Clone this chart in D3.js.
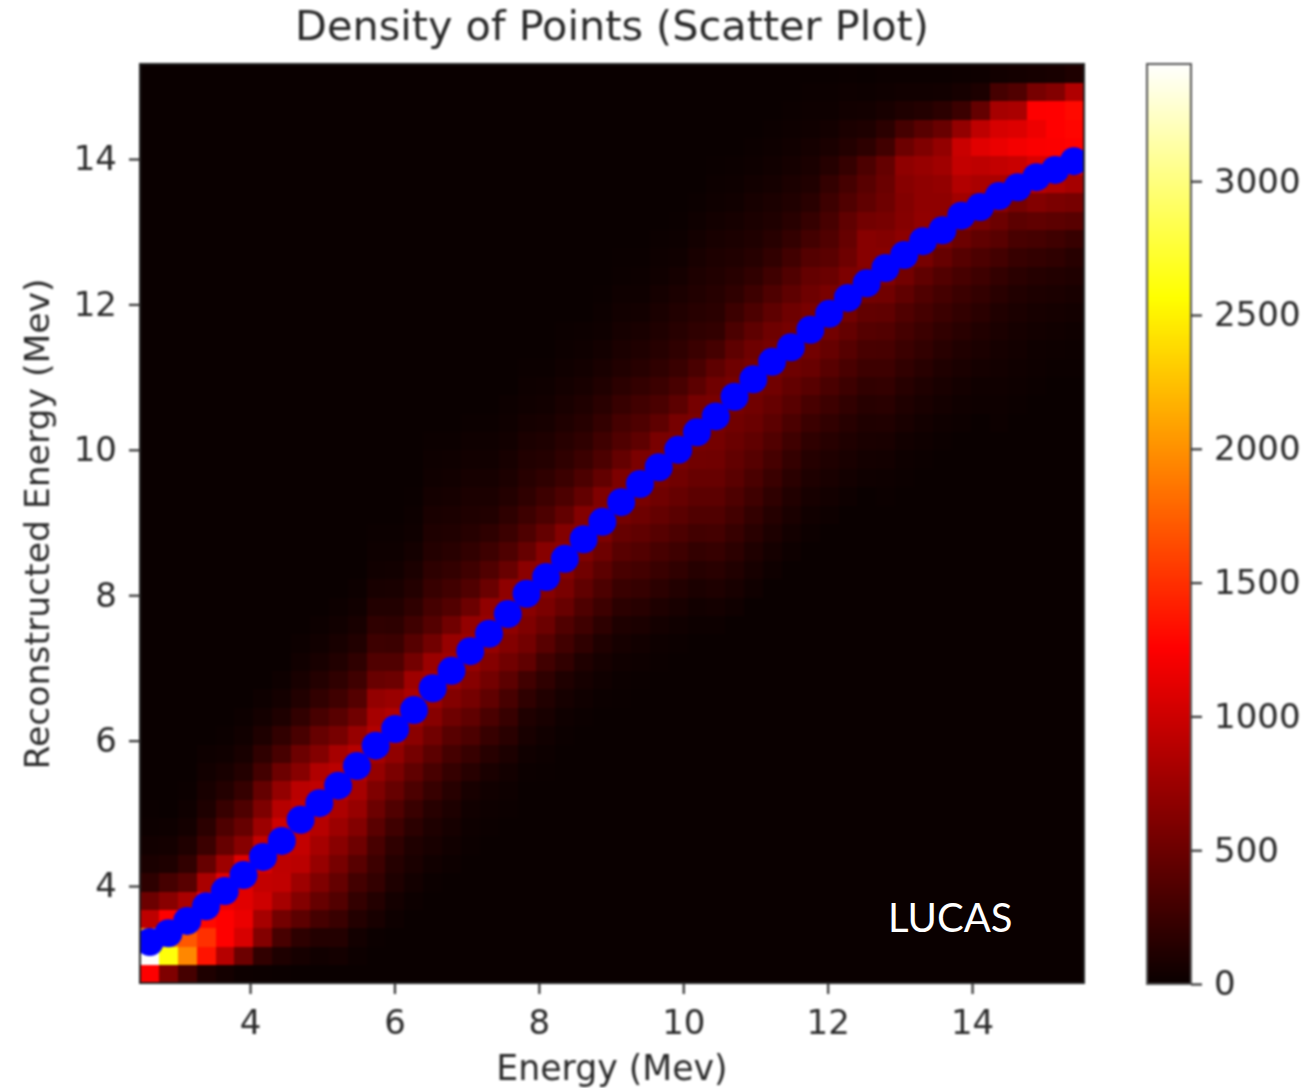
<!DOCTYPE html>
<html>
<head>
<meta charset="utf-8">
<script src="https://cdnjs.cloudflare.com/ajax/libs/d3/7.8.5/d3.min.js"></script>
<style>
html,body{margin:0;padding:0;background:#fff;}
svg{display:block;}
text{font-family:"DejaVu Sans",sans-serif;fill:#2a2a2a;}
</style>
</head>
<body>
<svg id="c" width="1311" height="1088"></svg>
<script>
const titleText = "Density of Points (Scatter Plot)";
const xLabel = "Energy (Mev)";
const yLabel = "Reconstructed Energy (Mev)";
const note = "LUCAS";
const xTicks = [4, 6, 8, 10, 12, 14];
const yTicks = [4, 6, 8, 10, 12, 14];
const cbarTicks = [0, 500, 1000, 1500, 2000, 2500, 3000];
const xDomain = [2.476, 15.55];
const yDomain = [2.666, 15.307];
const vMax = 3438;
const binCount = 50;

// Mean reconstructed energy (blue markers)
const meanX = [2.61,2.87,3.13,3.39,3.65,3.91,4.18,4.44,4.70,4.96,5.22,5.48,5.74,6.01,6.27,6.53,6.79,7.05,7.31,7.57,7.83,8.10,8.36,8.62,8.88,9.14,9.40,9.66,9.93,10.19,10.45,10.71,10.97,11.23,11.49,11.76,12.02,12.28,12.54,12.80,13.06,13.32,13.59,13.85,14.11,14.37,14.63,14.89,15.15,15.41];
const meanY = [3.23,3.35,3.52,3.72,3.93,4.15,4.40,4.62,4.91,5.14,5.38,5.65,5.93,6.16,6.42,6.72,6.96,7.23,7.47,7.74,8.02,8.25,8.50,8.77,9.01,9.28,9.53,9.76,10.0,10.24,10.46,10.73,10.97,11.21,11.41,11.65,11.87,12.09,12.29,12.50,12.68,12.87,13.02,13.22,13.34,13.49,13.61,13.75,13.85,13.97];

// Density per energy column: [first non-empty row, counts upward from that row...]
const heatColumns = [
[0,1250,3430,2000,920,500,180,80,40,15,5],
[0,600,2600,1900,1250,650,300,100,50,20],
[0,300,1950,1700,1450,820,400,200,110,50,25,12],
[0,100,1350,1500,1300,1150,820,470,250,170,100,70,40,18],
[0,50,880,1250,1250,1150,1100,760,470,350,230,130,70,30,10],
[0,15,500,1050,1150,1100,1100,1080,640,470,350,220,130,70,35,15],
[0,8,200,620,800,1000,950,1050,950,750,590,460,290,190,100,50,20],
[0,5,100,310,540,800,930,920,1000,1000,880,700,500,310,200,100,50,20],
[1,60,180,420,620,760,900,950,950,950,900,640,500,320,200,120,70,35,15],
[1,35,130,300,470,600,720,800,880,930,930,850,620,470,310,200,130,70,35,15],
[1,50,130,240,370,460,560,650,750,830,900,900,800,560,400,270,190,120,70,35,15],
[1,15,45,130,210,290,400,510,620,720,800,870,880,720,520,380,270,190,120,70,35,15],
[2,10,70,130,210,260,320,410,500,600,710,800,860,800,700,480,360,260,190,125,70,35,18,8],
[3,20,50,100,140,190,270,360,470,580,690,790,850,740,500,360,250,180,125,75,40,20,8],
[4,15,45,80,110,170,240,340,440,550,660,770,830,760,540,390,270,190,130,85,50,28,14,6],
[5,12,35,70,100,150,230,320,420,530,640,740,800,740,530,380,300,230,180,130,100,75,50,30,18,10],
[6,15,35,60,95,150,220,300,400,510,620,730,770,720,520,370,280,210,155,115,85,60,40,24,12],
[7,8,18,35,70,150,230,340,440,550,640,720,750,700,500,360,270,200,145,110,85,60,40,25,12],
[8,8,18,35,80,150,230,330,440,540,630,710,730,690,490,360,260,185,120,85,60,38,25,12],
[9,10,20,45,90,160,230,310,420,530,620,680,710,680,480,350,250,185,130,90,65,42,28,14],
[11,10,30,70,110,190,280,440,540,600,650,690,660,470,350,260,190,150,120,85,55,32,18,8],
[11,5,15,35,70,120,190,280,400,500,580,640,680,640,460,340,260,190,135,100,68,42,24,12],
[13,10,25,60,110,200,280,360,480,570,640,670,620,450,340,250,190,150,110,75,50,30,15,8],
[14,12,30,60,110,190,270,350,440,530,610,650,620,450,340,250,190,145,105,72,45,26,14],
[15,12,30,60,105,180,260,340,420,510,590,630,600,450,340,270,210,160,115,75,48,28,14,6],
[15,5,12,30,60,100,170,240,320,400,470,550,610,590,460,360,300,230,170,120,85,60,40,25,12,6],
[16,6,18,40,85,150,220,290,370,440,510,570,610,580,430,350,280,210,150,105,75,48,28,14,6],
[17,8,22,50,100,170,240,310,390,460,520,570,600,570,430,330,250,190,145,110,80,55,30,18,8],
[18,12,30,70,125,195,265,340,410,470,530,575,590,560,420,320,240,190,150,120,85,55,32,16,6],
[19,15,40,85,145,210,285,360,420,475,530,570,580,555,420,325,245,190,150,120,95,70,45,25,12],
[19,15,50,100,160,225,295,360,420,475,520,550,575,570,520,430,300,205,165,145,120,95,72,48,28,14,6],
[20,30,70,120,175,230,290,350,410,450,490,530,565,565,515,430,335,255,190,150,115,85,60,38,20,8],
[21,30,65,110,160,210,270,330,390,440,490,530,565,560,510,430,340,260,195,145,105,85,65,40,20,10],
[22,25,55,95,140,190,245,305,365,420,470,525,560,555,510,430,350,270,200,150,110,85,55,35,20,10],
[23,20,45,80,120,165,215,270,335,400,455,510,560,555,510,430,360,280,210,155,115,85,55,35,20,10],
[24,15,35,65,100,140,190,250,320,400,480,540,570,570,510,460,380,290,220,160,115,80,55,30,18,10],
[25,18,45,75,110,150,200,260,330,400,470,540,585,570,490,410,360,310,260,210,140,80,45,20,8],
[26,20,45,75,110,150,200,260,325,390,460,540,600,590,510,470,440,360,300,220,130,85,40,18,6],
[27,25,50,80,110,150,200,260,320,385,450,540,610,640,640,540,440,400,340,180,100,45,15],
[26,8,22,45,75,115,160,210,260,310,370,440,530,620,650,620,560,510,490,460,280,170,70,25,8],
[27,10,22,42,75,110,150,200,250,300,360,440,540,640,670,630,620,640,680,500,300,110,35,12],
[28,10,25,45,75,110,155,205,250,300,360,440,560,660,690,680,680,720,600,400,130,35,12],
[29,12,28,50,75,110,155,200,250,300,370,470,590,680,680,700,770,700,480,170,40,12],
[30,15,30,50,80,115,160,205,250,310,390,500,640,780,860,950,980,700,250,60,15],
[31,18,32,55,85,120,165,210,265,340,440,570,700,820,920,1100,920,460,90,20],
[30,15,20,30,45,60,85,115,160,210,290,400,500,660,820,950,1150,1050,800,300,40],
[31,12,20,30,45,62,85,120,165,230,320,420,560,760,980,1200,1080,820,360,50],
[32,10,18,28,45,65,95,140,210,300,440,620,900,1060,1230,1170,1250,560,60],
[33,12,20,35,55,85,125,190,270,420,580,850,1080,1240,1255,1255,620,70],
[33,10,15,25,45,70,110,150,230,400,560,800,1050,1260,1280,1300,850,100]
];

const W = 1311, H = 1088;
const plot = {l:140, r:1084, t:64, b:983};
const bar = {l:1147, r:1191, t:64, b:984};

const x = d3.scaleLinear().domain(xDomain).range([plot.l, plot.r]);
const y = d3.scaleLinear().domain(yDomain).range([plot.b, plot.t]);
const xBand = d3.scaleBand().domain(d3.range(binCount)).range([plot.l, plot.r]);
const yBand = d3.scaleBand().domain(d3.range(binCount)).range([plot.b, plot.t]);
const hot = d3.scaleLinear()
  .domain([0, 0.365*vMax, 0.746*vMax, vMax])
  .range(["rgb(10,0,0)","rgb(255,0,0)","rgb(255,255,0)","rgb(255,255,255)"])
  .clamp(true);
const cbar = d3.scaleLinear().domain([0, vMax]).range([bar.b, bar.t]);

const svg = d3.select("#c");
svg.append("rect").attr("width",W).attr("height",H).attr("fill","#fff");
const defs = svg.append("defs");
defs.append("filter").attr("id","soft").attr("filterUnits","userSpaceOnUse")
  .attr("x",0).attr("y",0).attr("width",W).attr("height",H)
  .attr("color-interpolation-filters","sRGB")
  .append("feGaussianBlur").attr("stdDeviation",1.1);
defs.append("clipPath").attr("id","plotClip").append("rect")
  .attr("x",plot.l).attr("y",plot.t).attr("width",plot.r-plot.l).attr("height",plot.b-plot.t);

const root = svg.append("g").attr("filter","url(#soft)");
root.append("rect").attr("width",W).attr("height",H).attr("fill","#fff");

const cells = [];
heatColumns.forEach((col, i) => {
  const start = col[0];
  const vals = col.slice(1);
  for (let j = 0; j < binCount; j++) {
    const k = j - start;
    cells.push({i, j, v: (k >= 0 && k < vals.length) ? vals[k] : 0});
  }
});
const plotG = root.append("g").attr("clip-path","url(#plotClip)");
plotG.append("rect").attr("x",plot.l).attr("y",plot.t)
  .attr("width",plot.r-plot.l).attr("height",plot.b-plot.t).attr("fill",hot(0));
plotG.append("g").attr("shape-rendering","crispEdges").selectAll("rect").data(cells).join("rect")
  .attr("x", d => xBand(d.i))
  .attr("y", d => yBand(d.j))
  .attr("width", xBand.bandwidth()+0.5)
  .attr("height", yBand.bandwidth()+0.5)
  .attr("fill", d => hot(d.v));

plotG.append("g").selectAll("circle").data(meanX).join("circle")
  .attr("cx", d => x(d))
  .attr("cy", (d,i) => y(meanY[i]))
  .attr("r", 14)
  .attr("fill", "#0000ff");

root.append("rect").attr("x",plot.l).attr("y",plot.t)
  .attr("width",plot.r-plot.l).attr("height",plot.b-plot.t)
  .attr("fill","none").attr("stroke","#222").attr("stroke-width",2);

function styleAxis(g){
  g.select(".domain").remove();
  g.selectAll(".tick line").attr("stroke","#333").attr("stroke-width",2.2);
  g.selectAll(".tick text").attr("font-size",34).attr("font-family","DejaVu Sans").attr("fill","#2a2a2a");
}
root.append("g").attr("transform",`translate(0,${plot.b})`)
  .call(d3.axisBottom(x).tickValues(xTicks).tickSize(11).tickPadding(16).tickFormat(d3.format("d")))
  .call(styleAxis);
root.append("g").attr("transform",`translate(${plot.l},0)`)
  .call(d3.axisLeft(y).tickValues(yTicks).tickSize(11).tickPadding(12).tickFormat(d3.format("d")))
  .call(styleAxis);

root.append("text").attr("x",612).attr("y",40).attr("text-anchor","middle").attr("font-size",41.4).text(titleText);
root.append("text").attr("x",612).attr("y",1080).attr("text-anchor","middle").attr("font-size",34.7).text(xLabel);
root.append("text").attr("transform","translate(49,524) rotate(-90)").attr("text-anchor","middle").attr("font-size",34.6).text(yLabel);

const steps = d3.range(0, vMax, 8);
root.append("g").attr("shape-rendering","crispEdges").selectAll("rect").data(steps).join("rect")
  .attr("x",bar.l).attr("width",bar.r-bar.l)
  .attr("y",d => cbar(d+8)).attr("height",d => cbar(d)-cbar(d+8)+0.6)
  .attr("fill",d => hot(d));
root.append("rect").attr("x",bar.l).attr("y",bar.t).attr("width",bar.r-bar.l).attr("height",bar.b-bar.t)
  .attr("fill","none").attr("stroke","#555").attr("stroke-width",2);
root.append("g").attr("transform",`translate(${bar.r},0)`)
  .call(d3.axisRight(cbar).tickValues(cbarTicks).tickSize(11).tickPadding(12).tickFormat(d3.format("d")))
  .call(styleAxis);

svg.append("text").attr("x",888).attr("y",932).attr("font-size",40)
  .style("font-family","Lato, 'Open Sans', sans-serif").style("fill","#fff").text(note);
</script>
</body>
</html>
